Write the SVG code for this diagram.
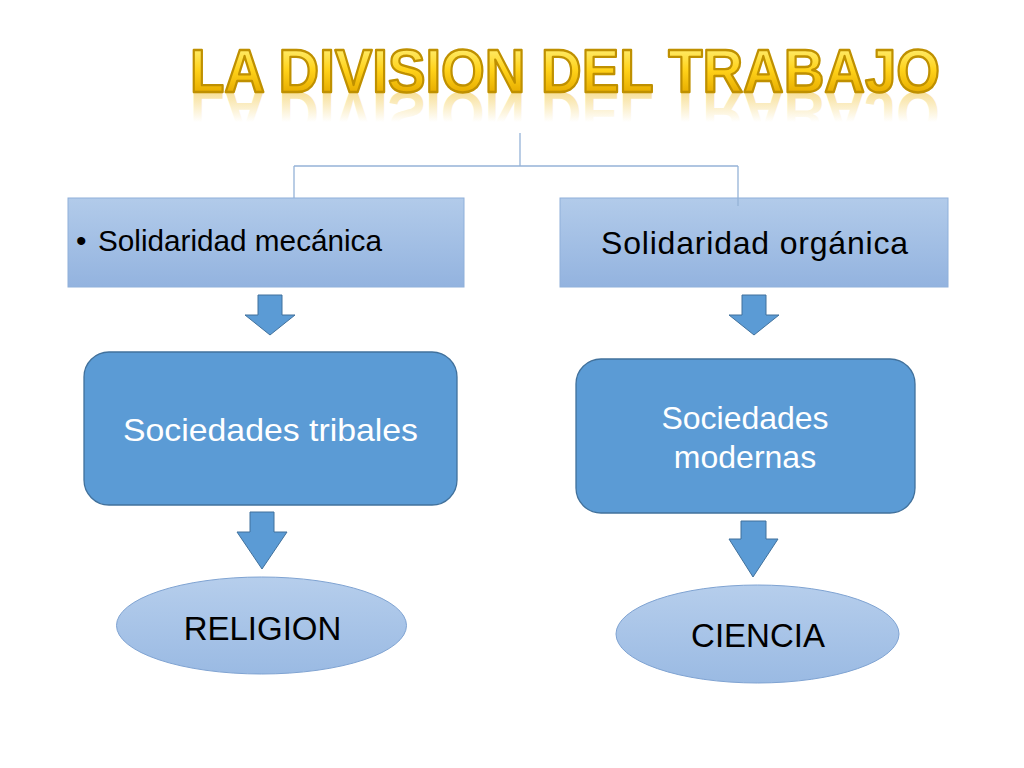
<svg xmlns="http://www.w3.org/2000/svg" width="1024" height="768" viewBox="0 0 1024 768">
  <defs>
    <linearGradient id="gold" x1="0" y1="48" x2="0" y2="92" gradientUnits="userSpaceOnUse">
      <stop offset="0" stop-color="#FFEC6B"/>
      <stop offset="0.5" stop-color="#FFD21A"/>
      <stop offset="1" stop-color="#E8AE00"/>
    </linearGradient>
    <linearGradient id="goldRefl" x1="0" y1="92" x2="0" y2="62" gradientUnits="userSpaceOnUse">
      <stop offset="0" stop-color="#F0C030" stop-opacity="0.5"/>
      <stop offset="1" stop-color="#F0C030" stop-opacity="0"/>
    </linearGradient>
    <linearGradient id="boxGrad" x1="0" y1="0" x2="0" y2="1">
      <stop offset="0" stop-color="#B2CBEA"/>
      <stop offset="1" stop-color="#93B3DF"/>
    </linearGradient>
    <linearGradient id="ellGrad" x1="0" y1="0" x2="0" y2="1">
      <stop offset="0" stop-color="#B6CEEC"/>
      <stop offset="1" stop-color="#9ABAE3"/>
    </linearGradient>
  </defs>
  <style>
    .sq { fill: url(#boxGrad); stroke: #8FB0DA; stroke-width: 1; }
    .rr { fill: #5B9BD5; stroke: #41719C; stroke-width: 1.3; }
    .ell { fill: url(#ellGrad); stroke: #7FA3D2; stroke-width: 1; }
    .arr { fill: #5B9BD5; stroke: #41719C; stroke-width: 1; }
    .conn { fill: none; stroke: #95B3D7; stroke-width: 1.3; }
    .t { font-family: "Liberation Sans", Arial, Helvetica, sans-serif; }
    .dark { fill: #000000; }
    .white { fill: #FFFFFF; }
  </style>
  <rect width="1024" height="768" fill="#FFFFFF"/>

  <g id="title">
    <text class="t" x="190" y="92" font-size="62" font-weight="bold" textLength="750" lengthAdjust="spacingAndGlyphs" fill="url(#goldRefl)" transform="translate(0,184) scale(1,-1)">LA DIVISION DEL TRABAJO</text>
    <text class="t" x="190" y="92" font-size="62" font-weight="bold" textLength="750" lengthAdjust="spacingAndGlyphs" fill="url(#gold)" stroke="#BF9000" stroke-width="2.4" stroke-linejoin="round">LA DIVISION DEL TRABAJO</text>
  </g>

  <g id="connectors">
    <path class="conn" d="M520,133 V166 M294,166 H738 M294,166 V198"/>
  </g>

  <g id="mecanica">
    <rect class="sq" x="68" y="198" width="396" height="89"/>
    <text class="t dark" y="251" font-size="30"><tspan x="76">•</tspan><tspan x="98" textLength="284" lengthAdjust="spacingAndGlyphs">Solidaridad mecánica</tspan></text>
  </g>

  <g id="organica">
    <rect class="sq" x="560" y="198" width="388" height="89"/>
    <text class="t dark" x="601" y="254" font-size="32" textLength="307" lengthAdjust="spacing">Solidaridad orgánica</text>
  </g>

  <g id="connectors-top">
    <path class="conn" d="M738,166 V206"/>
  </g>

  <g id="arrows">
    <polygon class="arr" points="258,295 282,295 282,315 295,315 270,335 245,315 258,315"/>
    <polygon class="arr" points="742,295 766,295 766,315 779,315 754,335 729,315 742,315"/>
    <polygon class="arr" points="250,512 274,512 274,532 287,532 262,569 237,532 250,532"/>
    <polygon class="arr" points="741,521 766,521 766,539 778,539 753,577 729,539 741,539"/>
  </g>

  <g id="tribales">
    <rect class="rr" x="84" y="352" width="373" height="153" rx="25"/>
    <text class="t white" x="270.5" y="441" font-size="32" text-anchor="middle" textLength="295" lengthAdjust="spacingAndGlyphs">Sociedades tribales</text>
  </g>

  <g id="modernas">
    <rect class="rr" x="576" y="359" width="339" height="154" rx="25"/>
    <text class="t white" font-size="32" text-anchor="middle"><tspan x="745" y="429">Sociedades</tspan><tspan x="745" y="468">modernas</tspan></text>
  </g>

  <g id="religion">
    <ellipse class="ell" cx="261.5" cy="625.5" rx="145" ry="48.5"/>
    <text class="t dark" x="262.5" y="640" font-size="33" text-anchor="middle">RELIGION</text>
  </g>

  <g id="ciencia">
    <ellipse class="ell" cx="757.5" cy="634" rx="141.5" ry="49"/>
    <text class="t dark" x="758" y="647" font-size="33" text-anchor="middle">CIENCIA</text>
  </g>
</svg>
